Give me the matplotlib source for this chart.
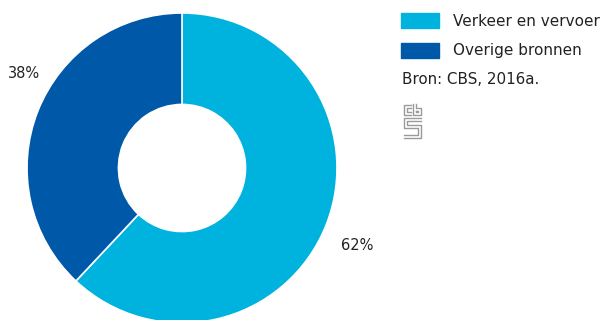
import matplotlib
matplotlib.use("Agg")
import matplotlib.pyplot as plt
from matplotlib.patches import Rectangle
from matplotlib.lines import Line2D

categories = ["Verkeer en vervoer", "Overige bronnen"]
shares = [62, 38]
colors = ["#00b2de", "#0058a8"]
source_note = "Bron: CBS, 2016a."

W, H = 605, 320
fig = plt.figure(figsize=(W / 100, H / 100), dpi=100)
plt.rcParams["font.family"] = ["DejaVu Sans"]

# donut axes: centre (182, 168) px, radius 155 px
cx, cy, r = 182, 168, 155
ax = fig.add_axes([(cx - r) / W, (H - cy - r) / H, 2 * r / W, 2 * r / H])
wedges, _ = ax.pie(shares, colors=colors, startangle=90, counterclock=False,
                   radius=1.0, wedgeprops=dict(width=0.59, edgecolor="white", linewidth=1.2))
ax.set_xlim(-1, 1)
ax.set_ylim(-1, 1)
ax.set_aspect("equal")
ax.axis("off")

label_pos = [(1.13, -0.50), (-1.02, 0.61)]
for val, (lx, ly) in zip(shares, label_pos):
    ax.text(lx, ly, f"{val}%", ha="center", va="center", fontsize=10.5, color="#222222")


def px(x, y):
    return x / W, 1 - y / H


# legend
for i, (cat, col) in enumerate(zip(categories, colors)):
    y0 = 13 + i * 30
    fig.patches.append(Rectangle(px(401, y0 + 15), 38 / W, 15 / H, color=col,
                                 transform=fig.transFigure))
    fig.text(*px(453, y0 + 8), cat, ha="left", va="center", fontsize=11, color="#222222")

fig.text(*px(402, 80), source_note, ha="left", va="center", fontsize=10.9, color="#222222")

# small logo mark
gray = "#9a9a9a"
paths = [
    [(411, 105), (404, 105), (404, 115), (411, 115)],
    [(411, 108), (407, 108), (407, 112), (411, 112)],
    [(413, 104), (413, 115), (421, 115), (421, 108), (416, 108), (416, 104)],
    [(416, 111), (418, 111), (418, 112), (416, 112), (416, 111)],
    [(421, 118), (404, 118), (404, 128), (418, 128), (418, 135), (404, 135)],
    [(421, 121), (407, 121), (407, 125), (421, 125), (421, 138), (404, 138)],
]
for p in paths:
    xs = [px(x, y)[0] for x, y in p]
    ys = [px(x, y)[1] for x, y in p]
    fig.lines.append(Line2D(xs, ys, color=gray, lw=1.0, transform=fig.transFigure))

fig.savefig("out.png", dpi=100, facecolor="white")
